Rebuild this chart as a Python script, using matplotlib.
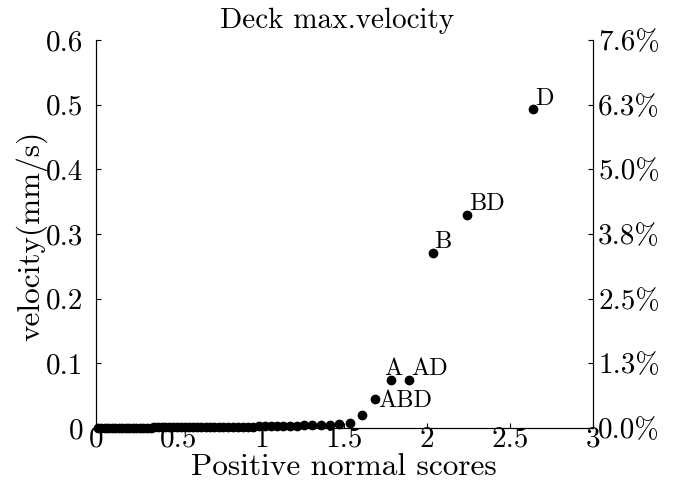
import numpy as np
import matplotlib
matplotlib.use("Agg")
import matplotlib.pyplot as plt

plt.rcParams['font.family'] = 'serif'
plt.rcParams['font.serif'] = ['cmr10', 'DejaVu Serif']
plt.rcParams['mathtext.fontset'] = 'cm'
plt.rcParams['axes.unicode_minus'] = False

# positive normal scores (half-normal quantiles of the 60 effects)
scores = [0.0104, 0.0313, 0.0522, 0.0731, 0.0941, 0.1152, 0.1362, 0.1573, 0.1786, 0.1998,
          0.2212, 0.2426, 0.2642, 0.2859, 0.3078, 0.3299, 0.3522, 0.3747, 0.3975, 0.4193,
          0.4427, 0.4654, 0.4888, 0.5125, 0.5364, 0.5608, 0.5855, 0.6103, 0.6360, 0.6615,
          0.6877, 0.7146, 0.7416, 0.7694, 0.7977, 0.8269, 0.8567, 0.8872, 0.9189, 0.9509,
          0.9841, 1.0187, 1.0545, 1.0917, 1.1303, 1.1708, 1.2132, 1.2581, 1.3057, 1.3566,
          1.4107, 1.4696, 1.5341, 1.6058, 1.6866, 1.7805, 1.8932, 2.0369, 2.2414, 2.6383]
# absolute effects on deck max velocity (mm/s)
velocity = [0.0002, 0.0002, 0.0003, 0.0003, 0.0003, 0.0004, 0.0004, 0.0004, 0.0005, 0.0005,
            0.0005, 0.0006, 0.0006, 0.0006, 0.0007, 0.0007, 0.0008, 0.0008, 0.0009, 0.0009,
            0.0010, 0.0010, 0.0011, 0.0011, 0.0012, 0.0012, 0.0013, 0.0013, 0.0014, 0.0015,
            0.0015, 0.0016, 0.0017, 0.0017, 0.0018, 0.0019, 0.0020, 0.0021, 0.0022, 0.0023,
            0.0024, 0.0025, 0.0027, 0.0029, 0.0031, 0.0034, 0.0037, 0.0040, 0.0043, 0.0047,
            0.0052, 0.0060, 0.0075, 0.0200, 0.0448, 0.0742, 0.0742, 0.2710, 0.3290, 0.4930]
total = 7.93  # sum of all effects, used for the percentage axis

labels = {54: "ABD", 55: "A", 56: "AD", 57: "B", 58: "BD", 59: "D"}
# text offsets in points from each labelled point
label_offsets = {54: (2, -6), 55: (-5, 3.5), 56: (1.5, 3.5), 57: (1, 3.2), 58: (1.5, 3.5), 59: (1.5, 3)}

yticks = [0, 0.1, 0.2, 0.3, 0.4, 0.5, 0.6]
xticks = [0, 0.5, 1, 1.5, 2, 2.5, 3]

fig = plt.figure(figsize=(6.83, 4.9), dpi=100)
ax = fig.add_axes([0.1406, 0.1265, 0.7271, 0.7918])
ax.plot(scores, velocity, 'o', color='black', markersize=6, clip_on=False, zorder=3)

for i, name in labels.items():
    ax.annotate(name, (scores[i], velocity[i]), xytext=label_offsets[i],
                textcoords='offset points', fontsize=17.5, ha='left', va='baseline')

ax.set_xlim(0, 3)
ax.set_ylim(0, 0.6)
ax.set_xticks(xticks)
ax.set_xticklabels([f"{t:g}" for t in xticks])
ax.set_yticks(yticks)
ax.set_yticklabels([f"{t:g}" for t in yticks])
ax.tick_params(axis='y', direction='in', labelsize=21, pad=9, length=3.5)
ax.tick_params(axis='x', direction='in', labelsize=21, pad=-1, length=3.5)
ax.spines['top'].set_visible(False)

ax2 = ax.twinx()
ax2.set_ylim(0, 0.6)
ax2.set_yticks(yticks)
ax2.set_yticklabels([f"{t / total * 100:.1f}%" for t in yticks])
ax2.tick_params(direction='in', labelsize=21, pad=4, length=3.5)
ax2.spines['top'].set_visible(False)

ax.set_title("Deck max.velocity", fontsize=21, x=0.485, pad=9)
ax.set_xlabel("Positive normal scores", fontsize=22.5)
ax.xaxis.set_label_coords(0.5, -0.065)
ax.set_ylabel("velocity(mm/s)", fontsize=22.5)
ax.yaxis.set_label_coords(-0.097, 0.494)

fig.savefig("out.png", dpi=100)
